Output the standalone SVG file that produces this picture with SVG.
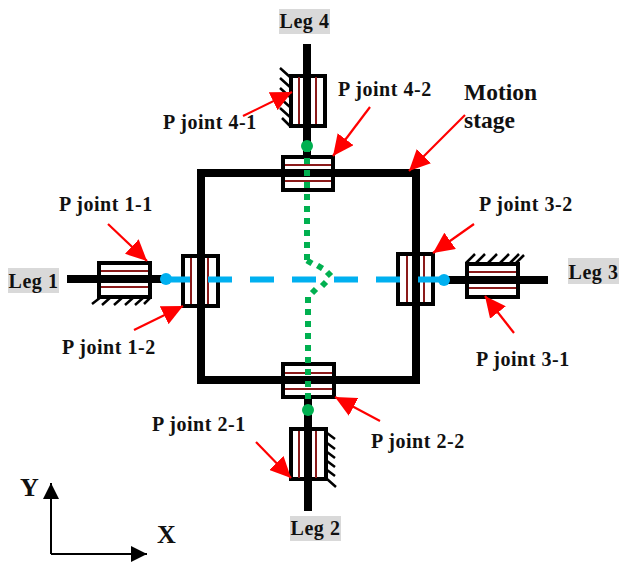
<svg xmlns="http://www.w3.org/2000/svg" width="619" height="563" viewBox="0 0 619 563">
<defs>
<marker id="ah" markerUnits="userSpaceOnUse" markerWidth="22" markerHeight="20" refX="21" refY="10" orient="auto"><path d="M0 0L21 10L0 20Z" fill="#ff0000"/></marker>
<marker id="ax" markerUnits="userSpaceOnUse" markerWidth="16" markerHeight="16" refX="16" refY="8" orient="auto"><path d="M0 0L16 8L0 16Z" fill="#000"/></marker>
</defs>
<style>
text{font-family:"Liberation Serif","Times New Roman",serif;font-weight:bold;font-size:20px;letter-spacing:.55px;fill:#111}
.big{font-size:23.500px;letter-spacing:0}
.axl{font-size:26px;letter-spacing:0}
.tag{fill:#d9d9d9}
.shaft{stroke:#000;stroke-width:8;fill:none}
.box{fill:#fff;stroke:#000;stroke-width:4}
.rail{stroke:#8b1a1a;stroke-width:2;fill:none}
.hatch{stroke:#000;stroke-width:2.5;fill:none}
.arrow{stroke:#ff0000;stroke-width:2.2;fill:none;marker-end:url(#ah)}
.axis{stroke:#000;stroke-width:2;fill:none;marker-end:url(#ax)}
.blue{stroke:#00b0f0;stroke-width:6;fill:none}
.green{stroke:#00b050;stroke-width:6;fill:none}
</style>
<g id="p-joint-4-1">
<rect class="box" x="291" y="76" width="34" height="50"/>
<path class="rail" d="M299 77V124M316 77V124"/>
<path class="hatch" d="M290 77L280 68M290 87L280 78M290 97L280 88M290 107L280 98M290 117L280 108M290 126L282 118"/>
</g>
<g id="p-joint-3-1">
<rect class="box" x="467" y="264" width="51" height="33"/>
<path class="rail" d="M469 272H516M469 288H516"/>
<path class="hatch" d="M466 263L475 254M476 263L485 254M488 263L497 254M500 263L509 254M510 263L519 254M516 263L524 255"/>
</g>
<g id="p-joint-2-1">
<rect class="box" x="291" y="429" width="35" height="50"/>
<path class="rail" d="M299 431V478M316 431V478"/>
<path class="hatch" d="M327 433L335 439M327 443L335 449M327 452L335 458M327 461L335 467M327 470L335 476M327 479L336 487"/>
</g>
<g id="p-joint-1-1">
<rect class="box" x="99" y="263" width="51" height="34"/>
<path class="rail" d="M101 271H148M101 287H148"/>
<path class="hatch" d="M92 304L101 297M102 305L111 297M114 305L123 297M125 305L134 297M135 305L144 297M144 304L151 297"/>
</g>
<g id="p-joint-4-2">
<rect class="box" x="283" y="157" width="50" height="33"/>
<path class="rail" d="M285 165H331M285 181H331"/>
</g>
<g id="p-joint-1-2">
<rect class="box" x="183" y="256" width="35" height="50"/>
<path class="rail" d="M191 258V304M208 258V304"/>
</g>
<g id="p-joint-3-2">
<rect class="box" x="398" y="254" width="35" height="50"/>
<path class="rail" d="M407 256V302M424 256V302"/>
</g>
<g id="p-joint-2-2">
<rect class="box" x="283" y="364" width="51" height="33"/>
<path class="rail" d="M285 373H332M285 389H332"/>
</g>
<g id="motion-stage"><rect x="201" y="173" width="215" height="207" fill="none" stroke="#000" stroke-width="8"/></g>
<g id="connectors">
<path class="shaft" d="M307 44V157M308 397V511M67 279H166M444 280H548"/>
<path class="blue" d="M166 279.500H190M208 279.500H232M250 279.500H274M292 279.500H316M334 279.500H358M376 279.500H400M418 279.500H444"/>
<path class="green" d="M307 146V152M307 158V254M308 297V400" stroke-dasharray="6 6"/>
<path class="green" d="M307 254V260M307 260.500L312 263.500M317.500 265.500L322.500 268.500M327 272L331 276M326 282L322 286M316 289L312 293"/>
<path class="arrow" d="M243 116L292 92"/>
<path class="arrow" d="M370 107L333 156"/>
<path class="arrow" d="M465 115L409 171"/>
<path class="arrow" d="M108 224L147 261"/>
<path class="arrow" d="M134 330L183 306"/>
<path class="arrow" d="M474 224L433 253"/>
<path class="arrow" d="M514 333L485 296"/>
<path class="arrow" d="M256 442L291 478"/>
<path class="arrow" d="M380 421L335 397"/>
<path class="axis" d="M51 554V483"/>
<path class="axis" d="M51 554H147"/>
</g>
<circle cx="307" cy="146" r="6" fill="#00b050"/>
<circle cx="308" cy="410" r="6" fill="#00b050"/>
<circle cx="166" cy="279" r="6" fill="#00b0f0"/>
<circle cx="444" cy="280" r="6" fill="#00b0f0"/>
<g id="labels">
<rect class="tag" x="279" y="9" width="51" height="25"/><text x="304.500" y="28" text-anchor="middle">Leg 4</text>
<rect class="tag" x="8" y="268" width="51" height="25"/><text x="33.500" y="288" text-anchor="middle">Leg 1</text>
<rect class="tag" x="568" y="258" width="51" height="26"/><text x="593.500" y="279" text-anchor="middle">Leg 3</text>
<rect class="tag" x="290" y="516" width="51" height="25"/><text x="315.500" y="535" text-anchor="middle">Leg 2</text>
<text x="163" y="129">P joint 4-1</text>
<text x="338" y="96">P joint 4-2</text>
<text class="big" x="464" y="100">Motion</text>
<text class="big" x="464" y="128">stage</text>
<text x="59" y="211">P joint 1-1</text>
<text x="62" y="354">P joint 1-2</text>
<text x="479" y="211">P joint 3-2</text>
<text x="476" y="366">P joint 3-1</text>
<text x="152" y="431">P joint 2-1</text>
<text x="371" y="448">P joint 2-2</text>
<text class="axl" x="20" y="496">Y</text>
<text class="axl" x="157" y="543">X</text>
</g>
</svg>
